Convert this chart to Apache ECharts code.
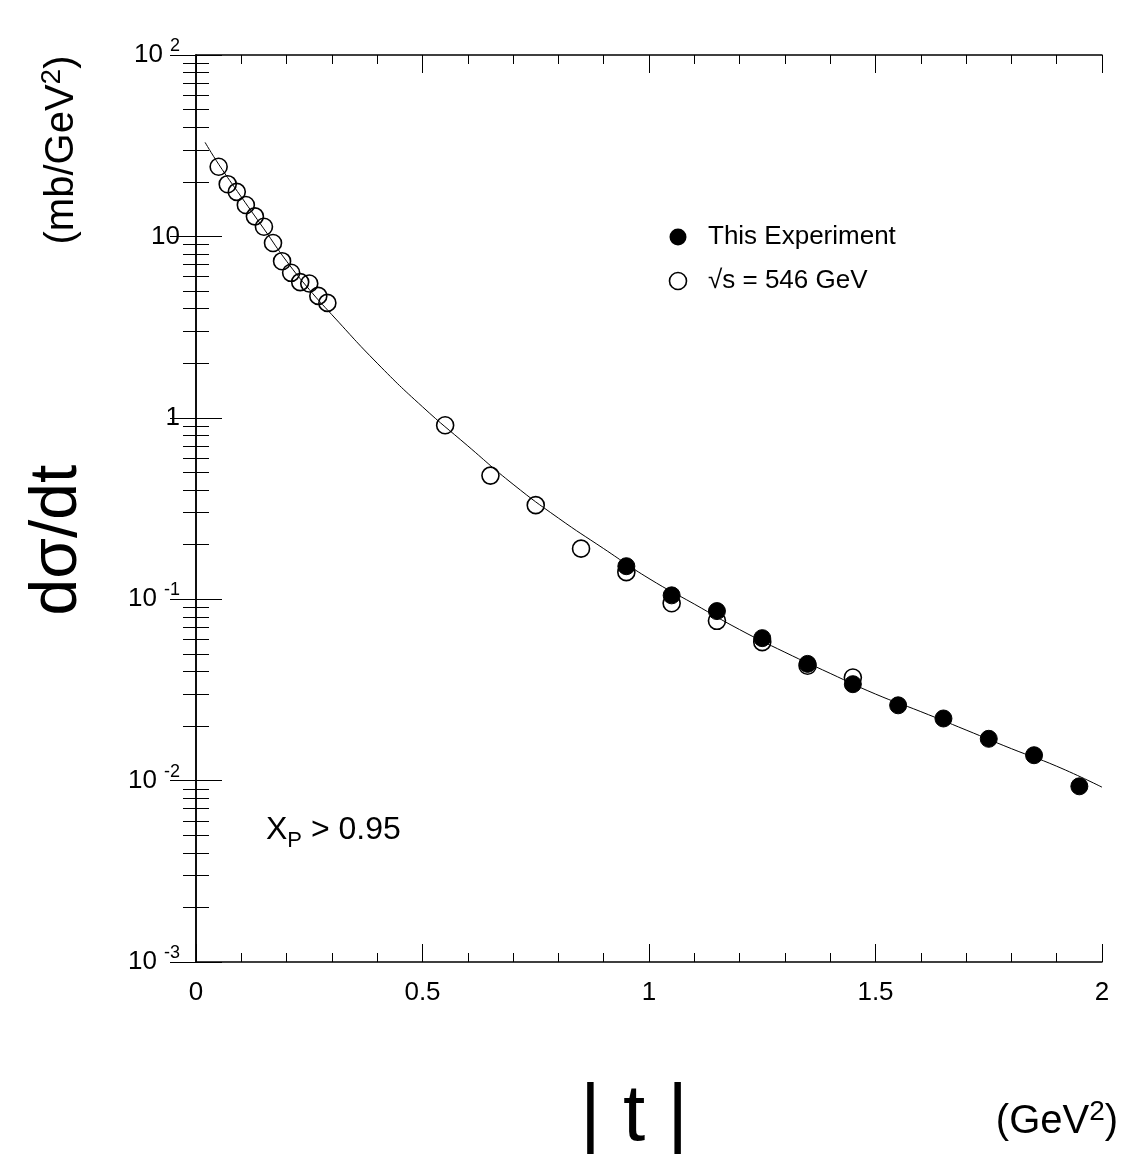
<!DOCTYPE html>
<html><head><meta charset="utf-8">
<script src="https://cdn.jsdelivr.net/npm/echarts@6/dist/echarts.min.js"></script>
<style>html,body{margin:0;padding:0;background:#fff}#c{width:1134px;height:1154px}</style>
</head><body><div id="c"></div>
<script>
const openT = [0.05,0.07,0.09,0.11,0.13,0.15,0.17,0.19,0.21,0.23,0.25,0.27,0.29,0.55,0.65,0.75,0.85,0.95,1.05,1.15,1.25,1.35,1.45];
const openV = [24.2,19.4,17.6,14.9,12.9,11.3,9.2,7.3,6.3,5.6,5.5,4.7,4.3,0.91,0.48,0.33,0.19,0.141,0.095,0.076,0.058,0.043,0.037];
const fullT = [0.95,1.05,1.15,1.25,1.35,1.45,1.55,1.65,1.75,1.85,1.95];
const fullV = [0.152,0.105,0.086,0.061,0.044,0.034,0.026,0.022,0.017,0.0138,0.0093];
const fitT = [0.02,0.05,0.1,0.15,0.2,0.25,0.3,0.4,0.5,0.6,0.7,0.8,0.9,1.0,1.1,1.2,1.3,1.4,1.5,1.6,1.7,1.8,1.9,2.0];
const fitV = [33,25,16.5,11,7.3,5.1,3.7,2.0,1.15,0.70,0.43,0.28,0.19,0.13,0.094,0.068,0.051,0.039,0.030,0.024,0.019,0.015,0.012,0.0092];
const xTicks = [0,0.5,1,1.5,2];
const yTickLabels = {"100":"10{s|2}","10":"10","1":"1","0.1":"10{s|-1}","0.01":"10{s|-2}","0.001":"10{s|-3}"};

const F = 'Liberation Sans, Arial, sans-serif';
const zip = (a,b)=>a.map((x,i)=>[x,b[i]]);
function yLab(v){
  for (const k in yTickLabels) if (Math.abs(Math.log10(v)-Math.log10(+k))<1e-6) return yTickLabels[k];
  return '';
}
const chart = echarts.init(document.getElementById('c'));
const axLine = {lineStyle:{color:'#000',width:1.5}};
chart.setOption({
  animation:false,
  grid:{left:196,right:32,top:55,bottom:192,show:false},
  xAxis:[{type:'value',min:0,max:2,interval:0.5,position:'bottom',
    axisLine:axLine,axisTick:{inside:true,length:18,lineStyle:{color:'#000'}},
    minorTick:{show:true,splitNumber:5,length:9,lineStyle:{color:'#000'}},
    splitLine:{show:false},
    axisLabel:{fontFamily:F,fontSize:26,color:'#000',margin:18,formatter:v=>xTicks.includes(v)?String(v):''}},
    {type:'value',min:0,max:2,interval:0.5,position:'top',
    axisLine:axLine,axisTick:{inside:true,length:18,lineStyle:{color:'#000'}},
    minorTick:{show:true,splitNumber:5,length:9,lineStyle:{color:'#000'}},
    splitLine:{show:false},axisLabel:{show:false}}],
  yAxis:[{type:'log',logBase:10,min:0.001,max:100,position:'left',
    axisLine:axLine,axisTick:{inside:true,length:26,lineStyle:{color:'#000'}},
    minorTick:{show:true,splitNumber:9,length:13,lineStyle:{color:'#000'}},
    splitLine:{show:false},
    axisLabel:{fontFamily:F,fontSize:26,color:'#000',margin:16,formatter:yLab,
      rich:{s:{fontFamily:F,fontSize:18,verticalAlign:'top',padding:[0,0,18,7],color:'#000'}}}},
    {type:'log',logBase:10,min:0.001,max:100,position:'right',
    axisLine:axLine,axisTick:{inside:true,length:26,lineStyle:{color:'#000'}},
    minorTick:{show:true,splitNumber:9,length:13,lineStyle:{color:'#000'}},
    splitLine:{show:false},axisLabel:{show:false}}],
  series:[
    {type:'line',data:zip(fitT,fitV),smooth:true,symbol:'none',lineStyle:{color:'#000',width:1},z:1},
    {type:'scatter',data:zip(openT,openV),symbol:'circle',symbolSize:17,
      itemStyle:{color:'rgba(255,255,255,0)',borderColor:'#000',borderWidth:1.6,opacity:1},z:2},
    {type:'scatter',data:zip(fullT,fullV),symbol:'circle',symbolSize:17,
      itemStyle:{color:'#000',borderColor:'#000',borderWidth:1,opacity:1},z:3}
  ],
  graphic:[
    {type:'text',x:58,y:540,rotation:Math.PI/2,style:{text:'dσ/dt',font:'66px '+F,fill:'#000',textAlign:'center',textVerticalAlign:'middle'}},
    {type:'text',x:62,y:150,rotation:Math.PI/2,style:{text:'(mb/GeV{s|2})',font:'40px '+F,fill:'#000',textAlign:'center',textVerticalAlign:'middle',
      rich:{s:{font:'28px '+F,verticalAlign:'top',padding:[0,0,20,0]}}}},
    {type:'text',x:634,y:1118,style:{text:'| t |',font:'80px '+F,fill:'#000',textAlign:'center',textVerticalAlign:'middle'}},
    {type:'text',x:1057,y:1122,style:{text:'(GeV{s|2})',font:'40px '+F,fill:'#000',textAlign:'center',textVerticalAlign:'middle',
      rich:{s:{font:'28px '+F,verticalAlign:'top',padding:[0,0,20,0]}}}},
    {type:'text',x:266,y:830,style:{text:'X{s|P} > 0.95',font:'32px '+F,fill:'#000',textVerticalAlign:'middle',
      rich:{s:{font:'22px '+F,verticalAlign:'bottom',padding:[22,0,0,0]}}}},
    {type:'circle',shape:{cx:678,cy:237,r:8.5},style:{fill:'#000'}},
    {type:'circle',shape:{cx:678,cy:281,r:8.5},style:{fill:'#fff',stroke:'#000',lineWidth:1.6}},
    {type:'text',x:708,y:237,style:{text:'This Experiment',font:'26px '+F,fill:'#000',textVerticalAlign:'middle'}},
    {type:'text',x:708,y:281,style:{text:'√s = 546 GeV',font:'26px '+F,fill:'#000',textVerticalAlign:'middle'}}
  ]
});
</script></body></html>
